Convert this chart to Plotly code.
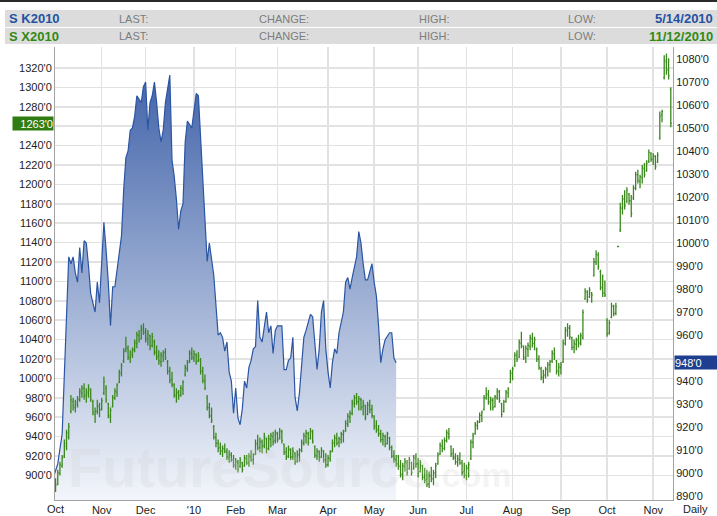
import plotly.graph_objects as go

# ---------------- data ----------------
# x = trading-day index counted from 1 Oct 2009
month_ticks = [22, 42, 64, 83, 102, 125, 146, 166, 188, 209, 231, 252, 273]
month_labels = ["Nov", "Dec", "'10", "Feb", "Mar", "Apr", "May", "Jun", "Jul", "Aug", "Sep", "Oct", "Nov"]
first_label_day = 1
first_label = "Oct"

# S K2010 (May 2010 soybeans) daily close, right axis
sk_day = [0, 2, 4, 5, 6, 7, 8, 9, 10, 11, 12, 13, 14, 15, 16, 17, 19, 20, 21, 22,
          23, 24, 25, 26, 27, 28, 30, 31, 32, 33, 34, 35, 36, 37, 38, 40, 41, 42, 43, 44,
          45, 46, 47, 48, 49, 50, 51, 52, 53, 54, 55, 56, 57, 58, 59, 60, 61, 63, 64, 65,
          66, 67, 68, 69, 70, 71, 73, 74, 75, 76, 77, 78, 79, 80, 81, 82, 83, 84, 85, 86,
          87, 88, 89, 90, 91, 92, 93, 94, 95, 97, 98, 99, 100, 101, 102, 104, 105, 106, 107, 108,
          109, 110, 111, 112, 114, 115, 117, 118, 119, 120, 121, 122, 123, 124, 125, 126, 127, 128, 129, 130,
          132, 133, 134, 135, 136, 138, 139, 140, 141, 142, 143, 145, 146, 147, 148, 149, 150, 151, 153, 154,
          155, 156]
sk_close = [898, 904, 917, 946, 975, 994, 991, 994, 987, 983, 998, 987, 1001, 1000, 990, 978, 970, 983, 974, 991,
            1009, 997, 983, 964, 981, 981, 997, 1003, 1023, 1037, 1040, 1049, 1050, 1055, 1064, 1061, 1068, 1070, 1049, 1061,
            1064, 1070, 1061, 1050, 1044, 1049, 1061, 1068, 1073, 1036, 1029, 1019, 1006, 1014, 1017, 1044, 1053, 1050, 1059, 1065,
            1064, 1047, 1026, 1009, 992, 1000, 986, 973, 960, 961, 959, 953, 957, 944, 940, 926, 937, 924, 921, 928,
            940, 937, 946, 949, 954, 955, 975, 959, 957, 970, 961, 964, 952, 962, 964, 964, 945, 945, 949, 950,
            959, 933, 927, 935, 959, 962, 969, 968, 958, 945, 954, 970, 975, 954, 944, 937, 948, 954, 952, 961,
            970, 983, 985, 980, 985, 994, 1005, 1000, 991, 984, 984, 991, 983, 977, 964, 948, 954, 958, 961, 961,
            950, 948]
sk_last = 948

# S X2010 (Nov 2010 soybeans) daily OHLC, left axis
sx_open = [888, 893, 891, 902, 910, 920, 930, 940, 966, 976,
           970, 973, 978, 985, 990, 982, 984, 988, 976, 963,
           966, 971, 968, 985, 990, 974, 960, 971, 980, 986,
           996, 1005, 1018, 1030, 1031, 1021, 1024, 1029, 1036, 1044,
           1041, 1050, 1047, 1040, 1044, 1034, 1038, 1027, 1023, 1017,
           1023, 1027, 1017, 1008, 999, 993, 982, 985, 983, 989,
           1004, 1010, 1018, 1025, 1021, 1024, 1018, 1019, 1007, 997,
           980, 970, 961, 950, 939, 933, 929, 925, 927, 924,
           918, 921, 916, 910, 913, 909, 913, 910, 917, 913,
           919, 916, 922, 932, 929, 934, 931, 938, 928, 937,
           940, 936, 943, 938, 945, 932, 924, 920, 926, 919,
           923, 915, 921, 926, 933, 940, 943, 938, 945, 930,
           920, 924, 919, 925, 916, 911, 917, 925, 933, 938,
           934, 937, 942, 946, 953, 960, 964, 974, 980, 976,
           978, 971, 972, 963, 972, 968, 961, 951, 947, 943,
           937, 940, 933, 939, 929, 920, 916, 912, 909, 901,
           909, 913, 907, 913, 907, 917, 912, 904, 910, 898,
           896, 891, 899, 897, 902, 912, 922, 930, 928, 936,
           943, 930, 923, 918, 914, 916, 913, 904, 900, 907,
           917, 934, 943, 951, 955, 962, 968, 980, 984, 975,
           977, 971, 980, 986, 974, 966, 976, 985, 996, 1005,
           1013, 1024, 1022, 1036, 1033, 1021, 1030, 1033, 1041, 1036,
           1030, 1020, 1010, 1001, 1003, 1009, 1014, 1018, 1025, 1018,
           1007, 1011, 1017, 1036, 1049, 1052, 1042, 1032, 1035, 1039,
           1037, 1042, 1082, 1089, 1084, 1088, 1106, 1120, 1127, 1110,
           1093, 1088, 1060, 1047, 1063, 1074, 1067, 1136, 1153, 1175,
           1185, 1182, 1190, 1183, 1186, 1196, 1210, 1203, 1207, 1216,
           1214, 1224, 1232, 1226, 1229, 1223, 1248, 1272, 1310, 1326,
           1318, 1298]
sx_high = [900, 897, 906, 914, 921, 937, 947, 954, 983, 980,
           978, 982, 990, 993, 995, 990, 994, 990, 978, 970,
           978, 975, 980, 1002, 993, 975, 970, 983, 990, 995,
           1009, 1016, 1031, 1043, 1034, 1029, 1032, 1040, 1048, 1050,
           1055, 1057, 1052, 1050, 1045, 1047, 1040, 1034, 1029, 1027,
           1029, 1031, 1019, 1012, 1007, 995, 990, 988, 993, 998,
           1014, 1019, 1029, 1032, 1029, 1026, 1027, 1021, 1012, 1004,
           983, 975, 970, 952, 944, 937, 934, 931, 933, 928,
           926, 924, 921, 918, 916, 919, 914, 921, 921, 923,
           926, 923, 937, 942, 939, 937, 944, 939, 942, 944,
           945, 947, 945, 949, 947, 933, 929, 931, 928, 929,
           924, 926, 928, 937, 944, 947, 945, 949, 947, 931,
           928, 926, 929, 926, 923, 921, 926, 937, 942, 944,
           940, 945, 947, 957, 964, 967, 978, 983, 985, 982,
           980, 978, 973, 976, 978, 973, 962, 957, 952, 947,
           944, 942, 945, 940, 931, 926, 921, 921, 916, 913,
           918, 916, 919, 914, 921, 923, 918, 916, 911, 908,
           906, 904, 909, 906, 913, 924, 934, 937, 939, 947,
           949, 931, 928, 923, 921, 924, 916, 913, 911, 914,
           937, 944, 955, 957, 965, 967, 983, 991, 988, 981,
           980, 983, 990, 988, 975, 978, 988, 991, 1009, 1012,
           1027, 1029, 1040, 1048, 1034, 1034, 1037, 1045, 1047, 1043,
           1032, 1024, 1012, 1009, 1012, 1017, 1019, 1029, 1032, 1019,
           1016, 1017, 1040, 1053, 1057, 1055, 1043, 1040, 1042, 1045,
           1047, 1071, 1093, 1091, 1094, 1089, 1124, 1132, 1130, 1112,
           1107, 1101, 1062, 1060, 1078, 1076, 1078, 1136, 1181, 1189,
           1194, 1197, 1191, 1189, 1199, 1213, 1215, 1210, 1220, 1222,
           1225, 1236, 1233, 1232, 1230, 1233, 1275, 1277, 1333, 1335,
           1330, 1300]
sx_low = [885, 883, 890, 900, 908, 918, 926, 937, 964, 967,
          965, 970, 976, 980, 978, 975, 980, 976, 962, 954,
          963, 960, 967, 983, 975, 959, 954, 970, 978, 981,
          995, 1002, 1016, 1027, 1019, 1016, 1021, 1027, 1031, 1037,
          1040, 1045, 1037, 1034, 1029, 1032, 1024, 1019, 1014, 1012,
          1017, 1019, 1004, 995, 991, 980, 975, 978, 981, 983,
          1002, 1007, 1016, 1019, 1017, 1014, 1017, 1004, 995, 988,
          967, 959, 954, 937, 929, 924, 921, 919, 923, 916,
          913, 914, 908, 906, 903, 908, 903, 909, 911, 909,
          914, 911, 921, 926, 924, 923, 928, 923, 926, 929,
          931, 933, 934, 937, 933, 921, 916, 918, 916, 916,
          911, 913, 914, 924, 931, 933, 931, 937, 933, 918,
          916, 914, 918, 913, 908, 909, 914, 924, 929, 931,
          929, 933, 934, 945, 950, 954, 962, 970, 973, 967,
          967, 962, 957, 962, 964, 959, 947, 944, 940, 934,
          931, 929, 932, 926, 918, 913, 909, 906, 898, 895,
          904, 900, 906, 900, 906, 908, 898, 903, 895, 892,
          888, 887, 893, 890, 897, 911, 921, 924, 926, 934,
          937, 919, 916, 911, 909, 911, 900, 897, 895, 898,
          916, 928, 942, 947, 954, 955, 967, 978, 973, 967,
          967, 970, 978, 975, 960, 965, 975, 980, 995, 998,
          1012, 1017, 1021, 1031, 1019, 1016, 1022, 1029, 1032, 1029,
          1017, 1009, 998, 995, 1000, 1002, 1006, 1016, 1019, 1004,
          1002, 1004, 1016, 1034, 1043, 1040, 1029, 1026, 1029, 1032,
          1034, 1040, 1081, 1078, 1083, 1078, 1105, 1117, 1112, 1091,
          1084, 1084, 1043, 1045, 1062, 1064, 1065, 1136, 1151, 1169,
          1174, 1181, 1179, 1166, 1184, 1194, 1201, 1196, 1201, 1207,
          1213, 1222, 1223, 1220, 1215, 1222, 1246, 1264, 1308, 1313,
          1308, 1259]
sx_close = [895, 890, 903, 911, 918, 933, 944, 950, 978, 972,
            975, 979, 987, 990, 982, 986, 990, 979, 965, 966,
            972, 968, 977, 997, 978, 962, 967, 980, 987, 993,
            1006, 1013, 1028, 1032, 1022, 1026, 1030, 1037, 1045, 1040,
            1052, 1048, 1041, 1046, 1033, 1043, 1027, 1022, 1018, 1024,
            1026, 1021, 1007, 998, 994, 983, 986, 982, 990, 996,
            1011, 1016, 1026, 1022, 1025, 1017, 1023, 1008, 998, 990,
            970, 962, 957, 940, 933, 928, 925, 928, 925, 919,
            922, 916, 911, 914, 906, 916, 906, 918, 913, 920,
            916, 921, 933, 928, 935, 930, 940, 927, 938, 941,
            935, 944, 937, 946, 936, 924, 919, 927, 919, 925,
            914, 922, 926, 934, 941, 944, 934, 946, 935, 921,
            925, 917, 926, 916, 911, 918, 924, 934, 939, 933,
            938, 943, 945, 954, 961, 964, 975, 980, 976, 979,
            970, 974, 960, 973, 968, 962, 950, 947, 943, 937,
            941, 932, 943, 929, 920, 917, 912, 910, 901, 910,
            914, 903, 916, 903, 918, 912, 902, 913, 898, 895,
            891, 900, 896, 903, 910, 921, 931, 928, 936, 944,
            940, 922, 919, 914, 917, 913, 903, 900, 908, 911,
            934, 941, 952, 955, 962, 965, 980, 983, 976, 978,
            970, 981, 987, 977, 963, 976, 986, 989, 1006, 1010,
            1024, 1020, 1037, 1034, 1022, 1031, 1034, 1042, 1036, 1040,
            1020, 1011, 1001, 1004, 1010, 1014, 1017, 1026, 1022, 1008,
            1012, 1014, 1037, 1050, 1052, 1043, 1032, 1036, 1040, 1036,
            1044, 1068, 1090, 1081, 1091, 1086, 1120, 1128, 1115, 1094,
            1088, 1086, 1046, 1057, 1075, 1067, 1074, 1136, 1176, 1185,
            1178, 1194, 1183, 1170, 1196, 1210, 1204, 1208, 1217, 1210,
            1222, 1233, 1226, 1229, 1218, 1230, 1270, 1275, 1328, 1318,
            1312, 1263]
sx_day = list(range(len(sx_close)))
sx_last = 1263

left_ticks = list(range(900, 1321, 20))
right_ticks = list(range(890, 1081, 10))

# ---------------- styling ----------------
W, H = 717, 516
ML, MR, MT, MB = 55, 44, 47, 16
PW, PH = W - ML - MR, H - MT - MB

def px(x):
    return (x - ML) / PW

def py(y):
    return (H - MB - y) / PH

BLUE_LINE = "#2b55a3"
BLUE_TXT = "#2452a3"
GREEN = "#3a881d"
GREEN_TXT = "#2f8a14"
GRID = "#e2e2e2"
AXIS = "#a3a3a3"
TXT = "#222222"
FONT = "Liberation Sans, Arial, sans-serif"

fig = go.Figure()

fig.add_trace(go.Scatter(
    x=sk_day, y=sk_close, mode="lines", yaxis="y",
    line=dict(color=BLUE_LINE, width=1.2),
    fill="tozeroy",
    fillgradient=dict(type="vertical",
                      colorscale=[[0, "rgb(243,246,251)"], [1, "rgb(66,100,170)"]],
                      start=888, stop=1073),
    hoverinfo="skip", showlegend=False,
))

fig.add_trace(go.Ohlc(
    x=sx_day, open=sx_open, high=sx_high, low=sx_low, close=sx_close,
    yaxis="y2",
    increasing=dict(line=dict(color=GREEN, width=1.3)),
    decreasing=dict(line=dict(color=GREEN, width=1.3)),
    tickwidth=0.45, showlegend=False, hoverinfo="skip",
))

left_text = [("" if v == 1260 else f"{v}'0") for v in left_ticks]
right_text = [("" if v == 950 else f"{v}'0") for v in right_ticks]

fig.update_layout(
    width=W, height=H, autosize=False,
    margin=dict(l=ML, r=MR, t=MT, b=MB, pad=0, autoexpand=False),
    paper_bgcolor="white", plot_bgcolor="white",
    font=dict(family=FONT, size=11, color=TXT),
    showlegend=False,
    xaxis=dict(
        range=[0.75, 282.0], tickmode="array", tickvals=month_ticks, ticktext=month_labels,
        showgrid=True, gridcolor=GRID, gridwidth=1.5, zeroline=False,
        showline=True, linecolor=AXIS, linewidth=1, ticks="", automargin=False,
        tickfont=dict(size=11, color=TXT), rangeslider=dict(visible=False),
        fixedrange=True,
    ),
    yaxis=dict(
        side="right", range=[888.3, 1085.2], tickmode="array", automargin=False,
        tickvals=right_ticks, ticktext=right_text, showgrid=False, zeroline=False,
        showline=True, linecolor=AXIS, linewidth=1, ticks="",
        tickfont=dict(size=11, color=TXT),
    ),
    yaxis2=dict(
        side="left", overlaying="y", range=[874.7, 1341.6], tickmode="array",
        tickvals=left_ticks, ticktext=left_text, showgrid=True, gridcolor=GRID,
        gridwidth=1.5, zeroline=False, showline=True, linecolor=AXIS, linewidth=1,
        ticks="", tickfont=dict(size=11, color=TXT), automargin=False,
    ),
)

shapes = [
    dict(type="rect", xref="paper", yref="paper", x0=px(0), x1=px(W), y0=py(2), y1=py(0),
         fillcolor="#2a2a2a", line=dict(width=0), layer="above"),
    dict(type="rect", xref="paper", yref="paper", x0=px(5), x1=px(W), y0=py(27), y1=py(10),
         fillcolor="#dcdcdc", line=dict(width=0)),
    dict(type="rect", xref="paper", yref="paper", x0=px(5), x1=px(W), y0=py(44), y1=py(28),
         fillcolor="#dcdcdc", line=dict(width=0)),
]
fig.update_layout(shapes=shapes)

ann = []
def head(text, x, y, color, size, bold=False, anchor="left"):
    t = f"<b>{text}</b>" if bold else text
    ann.append(dict(text=t, x=px(x), y=py(y), xref="paper", yref="paper",
                    xanchor=anchor, yanchor="middle", showarrow=False,
                    font=dict(family=FONT, size=size, color=color)))

for (code, date, col, yy) in [("S K2010", "5/14/2010", BLUE_TXT, 18.5),
                               ("S X2010", "11/12/2010", GREEN_TXT, 36)]:
    head(code, 7, yy, col, 13, bold=True)
    head("LAST:", 117, yy, "#7d7d7d", 11)
    head("CHANGE:", 257, yy, "#7d7d7d", 11)
    head("HIGH:", 417, yy, "#7d7d7d", 11)
    head("LOW:", 566, yy, "#7d7d7d", 11)
    head(date, 715, yy, col, 13, bold=True, anchor="right")

# last-value markers on axes
ann.append(dict(text=f"{sx_last}'0", x=0, y=sx_last, xref="paper", yref="y2",
                xanchor="right", yanchor="middle", xshift=-1, showarrow=False,
                bgcolor="#2f7d12", font=dict(family=FONT, size=11, color="white"),
                width=40, height=13, align="right", borderpad=0))
ann.append(dict(text=f"{sk_last}'0", x=1, y=sk_last, xref="paper", yref="y",
                xanchor="left", yanchor="middle", xshift=1, showarrow=False,
                bgcolor="#1e3f8f", font=dict(family=FONT, size=11, color="white"),
                width=42, height=13, align="left", borderpad=0))

# first month label and period
ann.append(dict(text=first_label, x=first_label_day, y=0, xref="x", yref="paper",
                xanchor="center", yanchor="top", yshift=-1, showarrow=False,
                font=dict(family=FONT, size=11, color=TXT)))
ann.append(dict(text="Daily", x=px(695), y=0, xref="paper", yref="paper",
                xanchor="center", yanchor="top", yshift=-1, showarrow=False,
                font=dict(family=FONT, size=11, color=TXT)))

# watermark
ann.append(dict(text="<b>FutureSource<span style='font-size:34px'>.com</span></b>",
                x=px(66), y=py(501), xref="paper", yref="paper",
                xanchor="left", yanchor="bottom", showarrow=False,
                font=dict(family=FONT, size=56, color="rgba(205,205,205,0.22)")))

fig.update_layout(annotations=ann)

fig.write_html("out.html", config={"displayModeBar": False, "staticPlot": True},
               post_script="document.body.style.margin='0';document.body.style.overflow='hidden';")
